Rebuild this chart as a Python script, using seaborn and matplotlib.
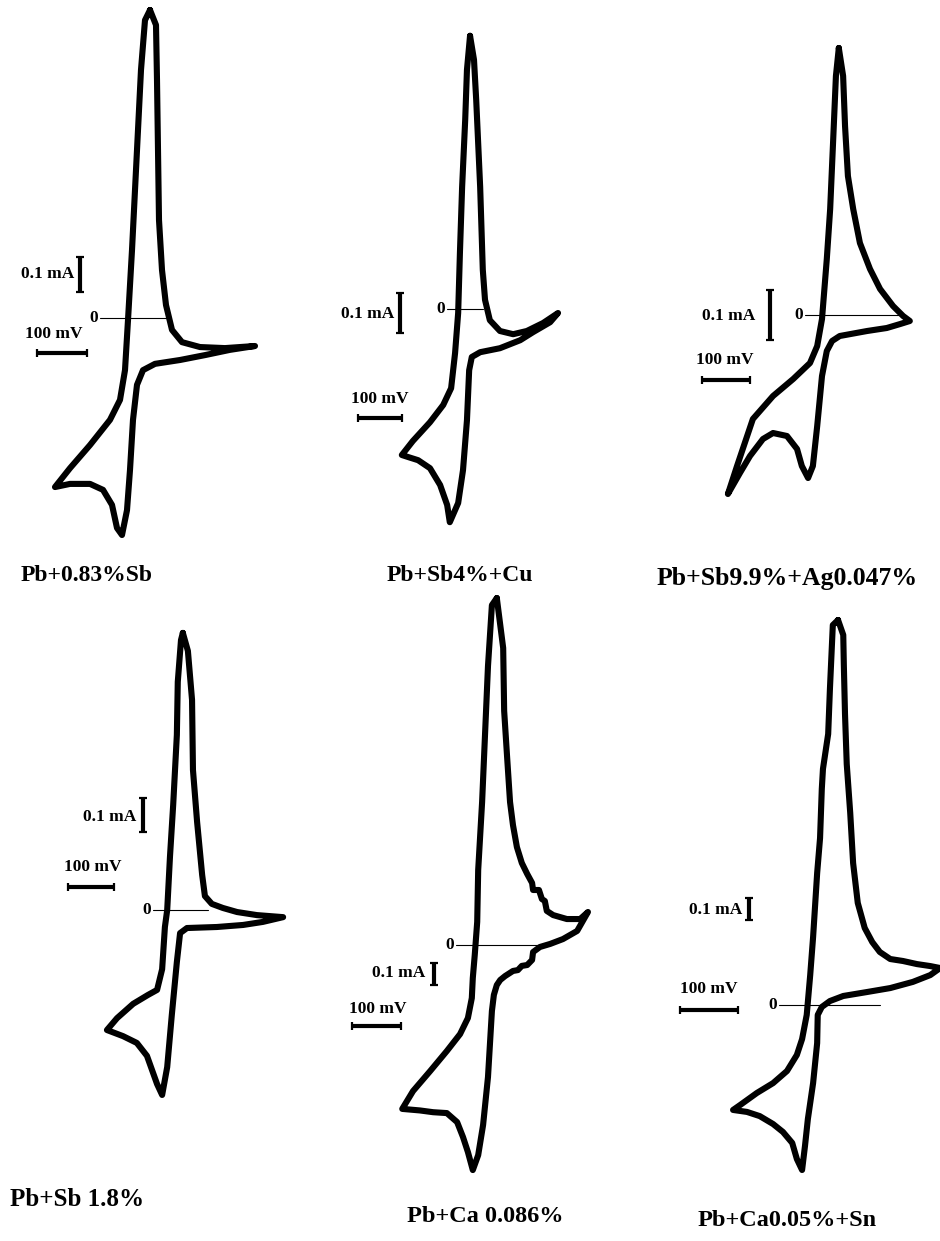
import matplotlib
matplotlib.use("Agg")
import matplotlib.pyplot as plt
import seaborn as sns

# Cyclic voltammograms: potential in mV (arbitrary origin), current in mA.
# Each loop is listed point by point and closes on its first point.
pb_083sb_mv = [100, 112, 114, 116, 118, 124, 132, 144, 164, 200, 250, 310, 260, 210, 160, 110, 86, 74, 66, 60,
               54, 44, 34, 24, 6, -20, -60, -90, -60, -20, 20, 40, 50, 56, 64, 74, 82, 90, 100]
pb_083sb_ma = [0.880, 0.837, 0.680, 0.480, 0.280, 0.137, 0.037, -0.034, -0.069, -0.083, -0.086, -0.080, -0.091,
               -0.106, -0.120, -0.131, -0.149, -0.191, -0.291, -0.434, -0.549, -0.620, -0.600, -0.534, -0.491,
               -0.474, -0.474, -0.483, -0.429, -0.363, -0.291, -0.234, -0.149, -0.006, 0.194, 0.480, 0.709,
               0.851, 0.880]

pb_sb4_cu_mv = [41, 50, 55, 64, 70, 75, 86, 109, 139, 170, 207, 241, 223, 184, 155, 109, 64, 45, 39, 34,
                25, 14, -5, -11, -27, -50, -77, -100, -114, -89, -50, -20, -2, 7, 14, 18, 23, 30, 34, 41]
pb_sb4_cu_ma = [0.683, 0.623, 0.523, 0.305, 0.098, 0.023, -0.028, -0.055, -0.063, -0.055, -0.035, -0.010,
                -0.033, -0.058, -0.078, -0.098, -0.108, -0.120, -0.153, -0.278, -0.403, -0.485, -0.533, -0.490,
                -0.440, -0.398, -0.378, -0.370, -0.365, -0.330, -0.283, -0.240, -0.198, -0.110, -0.010, 0.140,
                0.305, 0.473, 0.598, 0.683]

pb_sb99_ag_mv = [60, 69, 73, 79, 90, 104, 125, 146, 173, 194, 208, 188, 160, 119, 62, 46, 35, 25, 15, 6,
                 -4, -17, -27, -48, -77, -98, -125, -146, -171, -152, -119, -77, -35, 0, 15, 25, 35, 42, 48, 54, 60]
pb_sb99_ag_ma = [0.534, 0.478, 0.378, 0.278, 0.212, 0.144, 0.092, 0.052, 0.018, -0.002, -0.012, -0.018, -0.026,
                 -0.032, -0.042, -0.052, -0.072, -0.122, -0.222, -0.302, -0.326, -0.302, -0.268, -0.242, -0.236,
                 -0.248, -0.282, -0.316, -0.358, -0.302, -0.208, -0.162, -0.128, -0.096, -0.062, -0.008, 0.112,
                 0.212, 0.344, 0.478, 0.534]

pb_sb18_mv = [54, 65, 74, 76, 85, 96, 102, 117, 141, 172, 215, 272, 228, 185, 128, 63, 48, 41, 30, 20,
              9, -2, -24, -46, -76, -111, -89, -54, -22, -2, 9, 15, 20, 26, 33, 41, 43, 50, 54]
pb_sb18_ma = [0.815, 0.762, 0.618, 0.412, 0.259, 0.103, 0.041, 0.018, 0.006, -0.006, -0.015, -0.021, -0.035,
              -0.044, -0.050, -0.053, -0.068, -0.153, -0.309, -0.462, -0.544, -0.512, -0.429, -0.391, -0.371,
              -0.353, -0.318, -0.276, -0.250, -0.235, -0.174, -0.050, 0.000, 0.156, 0.309, 0.515, 0.671, 0.794,
              0.815]

pb_ca0086_mv = [69, 82, 84, 90, 96, 102, 110, 120, 131, 141, 143, 155, 161, 167, 171, 184, 212, 239, 255, 233,
                204, 178, 157, 143, 141, 131, 120, 112, 102, 86, 76, 69, 63, 59, 55, 51, 41, 31, 20, 10,
                0, -12, -33, -61, -88, -124, -102, -67, -33, -6, 10, 18, 20, 24, 29, 31, 39, 45, 51, 59, 69]
pb_ca0086_ma = [1.577, 1.350, 1.064, 0.855, 0.650, 0.545, 0.445, 0.373, 0.323, 0.282, 0.250, 0.250, 0.209,
                0.200, 0.155, 0.136, 0.118, 0.118, 0.150, 0.064, 0.027, 0.005, -0.009, -0.032, -0.068, -0.091,
                -0.095, -0.114, -0.118, -0.141, -0.159, -0.182, -0.227, -0.300, -0.450, -0.600, -0.818, -0.955,
                -1.023, -0.941, -0.873, -0.805, -0.764, -0.760, -0.752, -0.745, -0.664, -0.573, -0.482, -0.405,
                -0.332, -0.241, -0.150, -0.045, 0.105, 0.341, 0.650, 0.959, 1.268, 1.545, 1.577]

pb_ca005_sn_mv = [88, 97, 98, 100, 103, 109, 114, 122, 134, 147, 160, 178, 200, 224, 247, 264, 247, 217, 178, 138,
                  97, 74, 60, 53, 52, 45, 36, 31, 26, 17, 9, -7, -24, -47, -69, -93, -81, -52, -24, 0,
                  17, 26, 34, 40, 45, 52, 57, 60, 62, 71, 74, 79, 88]
pb_ca005_sn_ma = [1.750, 1.682, 1.545, 1.323, 1.095, 0.873, 0.645, 0.464, 0.350, 0.286, 0.241, 0.209, 0.200,
                  0.186, 0.177, 0.168, 0.136, 0.105, 0.077, 0.059, 0.041, 0.018, -0.009, -0.045, -0.173, -0.355,
                  -0.518, -0.641, -0.750, -0.700, -0.627, -0.577, -0.541, -0.505, -0.486, -0.477, -0.455, -0.400,
                  -0.355, -0.300, -0.227, -0.155, -0.045, 0.136, 0.309, 0.600, 0.759, 0.982, 1.073, 1.232, 1.436,
                  1.727, 1.750]

titles = ["Pb+0.83%Sb", "Pb+Sb4%+Cu", "Pb+Sb9.9%+Ag0.047%",
          "Pb+Sb 1.8%", "Pb+Ca 0.086%", "Pb+Ca0.05%+Sn"]
curves = [(pb_083sb_mv, pb_083sb_ma), (pb_sb4_cu_mv, pb_sb4_cu_ma), (pb_sb99_ag_mv, pb_sb99_ag_ma),
          (pb_sb18_mv, pb_sb18_ma), (pb_ca0086_mv, pb_ca0086_ma), (pb_ca005_sn_mv, pb_ca005_sn_ma)]

W, H = 940, 1241

# page layout in pixels: data origin, pixels per 100 mV / per 0.1 mA,
# zero line ends, scale bars (x, bottom / left, y) and label anchors, title centre
layout = [
    dict(x0=100, y0=318, sx=50, sy=35, zero=(100, 168), ma_bar=(80, 292), ma_txt=(74, 274),
         mv_bar=(37, 353), mv_txt=(54, 334), title=(87, 575), tsize=17),
    dict(x0=452, y0=309, sx=44, sy=40, zero=(447, 483), ma_bar=(400, 333), ma_txt=(394, 314),
         mv_bar=(358, 418), mv_txt=(380, 399), title=(460, 575), tsize=17),
    dict(x0=810, y0=315, sx=48, sy=50, zero=(805, 903), ma_bar=(770, 340), ma_txt=(755, 316),
         mv_bar=(702, 380), mv_txt=(725, 360), title=(787, 578), tsize=18.5),
    dict(x0=158, y0=910, sx=46, sy=34, zero=(153, 208), ma_bar=(143, 832), ma_txt=(136, 817),
         mv_bar=(68, 887), mv_txt=(93, 867), title=(77, 1200), tsize=18),
    dict(x0=463, y0=945, sx=49, sy=22, zero=(456, 540), ma_bar=(434, 985), ma_txt=(425, 973),
         mv_bar=(352, 1026), mv_txt=(378, 1009), title=(485, 1217), tsize=17.5),
    dict(x0=787, y0=1005, sx=58, sy=22, zero=(779, 880), ma_bar=(749, 920), ma_txt=(742, 910),
         mv_bar=(680, 1010), mv_txt=(709, 989), title=(787, 1220), tsize=17.5),
]


def to_data(p, x, y):
    """page pixel -> (mV, mA) of one plot"""
    return (x - p["x0"]) * 100 / p["sx"], (p["y0"] - y) * 0.1 / p["sy"]


sns.set_theme(style="white")
plt.rcParams["font.family"] = ["Liberation Serif", "DejaVu Serif"]
plt.rcParams["text.color"] = "black"

fig = plt.figure(figsize=(W / 100, H / 100), dpi=100)
fig.patch.set_facecolor("white")

label_kw = dict(fontsize=12.5, fontweight="bold", color="black")

for (mv, ma), title, p in zip(curves, titles, layout):
    ax = fig.add_axes([0, 0, 1, 1])
    ax.set_axis_off()
    ax.patch.set_alpha(0)
    x_lo, y_lo = to_data(p, 0, H)
    x_hi, y_hi = to_data(p, W, 0)
    ax.set_xlim(x_lo, x_hi)
    ax.set_ylim(y_lo, y_hi)

    sns.lineplot(x=mv, y=ma, sort=False, estimator=None, color="black", linewidth=4.4,
                 solid_joinstyle="round", solid_capstyle="round", ax=ax)

    # zero current line
    z0, _ = to_data(p, p["zero"][0], 0)
    z1, _ = to_data(p, p["zero"][1], 0)
    ax.plot([z0, z1], [0, 0], color="black", lw=0.8)
    zt, _ = to_data(p, p["zero"][0] - 2, 0)
    ax.text(zt, 0, "0", ha="right", va="center", **label_kw)

    # 0.1 mA scale bar
    bx, by = to_data(p, *p["ma_bar"])
    ax.plot([bx, bx], [by, by + 0.1], color="black", lw=3, solid_capstyle="butt")
    ax.plot([bx, bx], [by, by + 0.1], ls="none", marker="_", ms=6, mew=1.6, color="black")
    tx, ty = to_data(p, *p["ma_txt"])
    ax.text(tx, ty, "0.1 mA", ha="right", va="center", **label_kw)

    # 100 mV scale bar
    mx, my = to_data(p, *p["mv_bar"])
    ax.plot([mx, mx + 100], [my, my], color="black", lw=3, solid_capstyle="butt")
    ax.plot([mx, mx + 100], [my, my], ls="none", marker="|", ms=6, mew=1.6, color="black")
    tx, ty = to_data(p, *p["mv_txt"])
    ax.text(tx, ty, "100 mV", ha="center", va="center", **label_kw)

    fig.text(p["title"][0] / W, 1 - p["title"][1] / H, title, ha="center", va="center",
             fontsize=p["tsize"], fontweight="bold", color="black")

fig.savefig("out.png", dpi=100, facecolor="white")
